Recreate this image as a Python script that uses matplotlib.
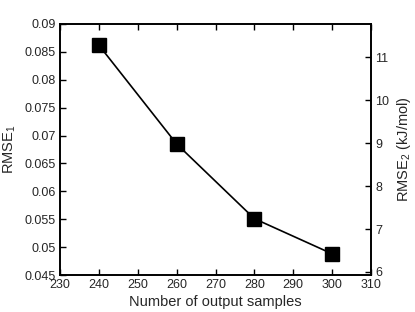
import matplotlib
matplotlib.use("Agg")
import matplotlib.pyplot as plt

plt.rcParams['font.family'] = ['Liberation Sans', 'DejaVu Sans']
plt.rcParams['mathtext.fontset'] = 'custom'
plt.rcParams['mathtext.rm'] = 'Liberation Sans'
plt.rcParams['mathtext.it'] = 'Liberation Sans'

samples = [240, 260, 280, 300]
rmse1 = [0.0862, 0.0685, 0.0551, 0.0488]
x_ticks = [230, 240, 250, 260, 270, 280, 290, 300, 310]
y1_ticks = [0.045, 0.05, 0.055, 0.06, 0.065, 0.07, 0.075, 0.08, 0.085, 0.09]
y1_labels = ['0.045', '0.05', '0.055', '0.06', '0.065', '0.07', '0.075', '0.08', '0.085', '0.09']
y2_ticks = [6, 7, 8, 9, 10, 11]

fig = plt.figure(figsize=(4.15, 3.12), dpi=100)
ax = fig.add_axes([60/415, 1-275/312, 311/415, 251/312])
ax.plot(samples, rmse1, color='black', lw=1.2, marker='s', markersize=10,
        markerfacecolor='black', markeredgecolor='black')
ax.set_xlim(230, 310)
ax.set_ylim(0.045, 0.09)
ax.set_xticks(x_ticks)
ax.set_yticks(y1_ticks)
ax.set_yticklabels(y1_labels)
ax.tick_params(direction='in', length=4, width=1, labelsize=9, top=True, right=False, pad=3,
               labelcolor='#262626')
for s in ax.spines.values():
    s.set_linewidth(1.2)
ax.set_xlabel('Number of output samples', fontsize=10.5, labelpad=3, color='#262626')
ax.set_ylabel('RMSE$_1$', fontsize=10.5, labelpad=5, color='#262626')

ax2 = ax.twinx()
ax2.set_ylim(5.93, 11.78)
ax2.set_yticks(y2_ticks)
ax2.tick_params(direction='in', length=4, width=1, labelsize=9, pad=3, labelcolor='#262626')
ax2.set_ylabel('RMSE$_2$ (kJ/mol)', fontsize=10.5, labelpad=4, color='#262626')
for s in ax2.spines.values():
    s.set_linewidth(1.2)

fig.savefig('out.png', dpi=100)
